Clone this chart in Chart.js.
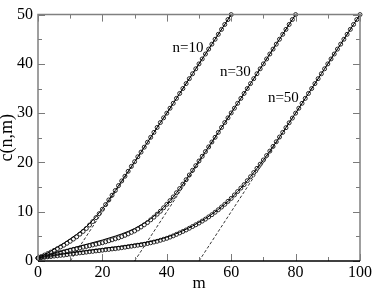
<!DOCTYPE html>
<html>
<head>
<meta charset="utf-8">
<script src="https://cdn.jsdelivr.net/npm/chart.js@4"></script>
<style>
  html, body { margin: 0; padding: 0; background: #fff; }
  #wrap { width: 374px; height: 288px; }
</style>
</head>
<body>
<div id="wrap"><canvas id="myChart" width="374" height="288"></canvas></div>
<script>
// circles: value at m = 0, 1, 2, ...
var c10 = [0.6,0.9,1.2,1.5,1.8,2.15,2.5,2.85,3.2,3.6,4.0,4.45,4.9,5.45,6.0,6.6,7.3,8.0,8.8,9.6,
  10.5,11.45,12.4,13.35,14.3,15.3,16.25,17.2,18.2,19.2,20.15,21.15,22.1,23.1,24.1,25.1,26.1,27.1,28.1,29.05,
  30,31,32,33,34,35,36,37,38,39,40,41,42,43,44,45,46,47,48,49,50]
var c30 = [0.6,0.75,0.9,1.05,1.2,1.4,1.55,1.7,1.85,2.0,2.2,2.35,2.5,2.65,2.8,2.95,3.1,3.25,3.4,3.55,
  3.7,3.9,4.1,4.3,4.5,4.7,4.95,5.2,5.5,5.8,6.1,6.5,6.9,7.35,7.8,8.35,8.9,9.5,10.1,10.8,
  11.5,12.25,13.0,13.85,14.7,15.6,16.5,17.45,18.4,19.35,20.3,21.25,22.2,23.15,24.15,25.1,26.1,27.1,28.1,29.05,
  30.05,31,32,33,34,35,36,37,38,39,40,41,42,43,44,45,46,47,48,49,50]
var c50 = [0.6,0.7,0.75,0.85,0.9,1.0,1.05,1.15,1.2,1.3,1.4,1.5,1.55,1.65,1.7,1.8,1.9,1.95,2.05,2.1,
  2.2,2.3,2.35,2.45,2.5,2.6,2.7,2.8,2.9,3.0,3.1,3.2,3.3,3.4,3.55,3.7,3.85,4.0,4.2,4.4,
  4.6,4.85,5.1,5.4,5.7,6.0,6.3,6.65,7.0,7.35,7.7,8.1,8.5,8.95,9.4,9.9,10.4,10.95,11.5,12.1,
  12.7,13.4,14.1,14.8,15.5,16.3,17.1,17.95,18.8,19.65,20.5,21.4,22.3,23.25,24.2,25.15,26.1,27.05,28.05,29.0,
  30,31,32,33,34,35,36,37,38,39,40,41,42,43,44,45,46,47,48,49,50]

// solid curves: value at m = 0, 2, 4, ...
var line10 = [0.6,1.3,2.0,2.8,3.6,4.5,5.4,6.4,7.6,9.0,10.6,12.4,14.3,16.25,18.2,20.15,22.1,24.1,26.1,28.1,
  30,32,34,36,38,40,42,44,46,48,50]
var line30 = [0.6,1.0,1.35,1.75,2.15,2.5,2.85,3.2,3.55,3.9,4.25,4.65,5.05,5.5,6.0,6.6,7.3,8.1,9.1,10.2,
  11.5,13.0,14.7,16.5,18.4,20.3,22.2,24.15,26.1,28.1,30.05,32,34,36,38,40,42,44,46,48,50]
var line50 = [0.6,0.85,1.05,1.25,1.45,1.6,1.8,2.0,2.15,2.35,2.5,2.7,2.85,3.0,3.2,3.4,3.6,3.85,4.1,4.45,
  4.85,5.3,5.85,6.45,7.1,7.85,8.6,9.5,10.45,11.55,12.7,14.1,15.5,17.1,18.8,20.5,22.3,24.2,26.1,28.05,
  30,32,34,36,38,40,42,44,46,48,50]

// dashed asymptotes: start and end points
var asymM = [[10,60],[30,80],[50,100]]
var asymC = [[0,50],[0,50],[0,50]]

var labelText = ['n=10','n=30','n=50']
var labelM = [46.6, 61.3, 76.2]
var labelC = [43.3, 38.4, 33.1]

var xTicks = [0,20,40,60,80,100]
var xMinor = [10,30,50,70,90]
var yTicks = [0,10,20,30,40,50]
var yMinor = [5,15,25,35,45]

var serif = "'Liberation Serif', 'Times New Roman', serif"

function pts(vals, step) {
    var out = []
    for (var i = 0; i < vals.length; i++) {
        out.push({x: i * step, y: vals[i]})
    }
    return out
}

var data_set = []
var circles = [c10, c30, c50]
var lines = [line10, line30, line50]
for (var k = 0; k < 3; k++) {
    data_set.push({
        data: pts(lines[k], 2),
        showLine: true,
        borderColor: '#000',
        borderWidth: 1,
        pointRadius: 0,
        cubicInterpolationMode: 'monotone',
        clip: 4
    })
    data_set.push({
        data: pts(circles[k], 1),
        showLine: false,
        pointRadius: 2,
        pointBorderWidth: 0.9,
        pointBorderColor: '#111',
        pointBackgroundColor: 'rgba(255,255,255,0)',
        clip: 4
    })
    data_set.push({
        data: [{x: asymM[k][0], y: asymC[k][0]}, {x: asymM[k][1], y: asymC[k][1]}],
        showLine: true,
        borderColor: '#000',
        borderWidth: 0.8,
        borderDash: [3, 2],
        pointRadius: 0
    })
}

const framePlugin = {
    id: 'frame_and_labels',
    afterDraw: (chart) => {
        const ctx = chart.ctx
        const a = chart.chartArea
        const xs = chart.scales.x
        const ys = chart.scales.y
        ctx.save()
        ctx.lineWidth = 1
        ctx.strokeStyle = '#7a7a7a'
        // ticks pointing inward, on all four sides
        function tick(x1, y1, x2, y2) {
            ctx.beginPath(); ctx.moveTo(x1, y1); ctx.lineTo(x2, y2); ctx.stroke()
        }
        xTicks.forEach(v => { var p = Math.round(xs.getPixelForValue(v)) + 0.5
            tick(p, a.bottom, p, a.bottom - 7); tick(p, a.top, p, a.top + 7) })
        xMinor.forEach(v => { var p = Math.round(xs.getPixelForValue(v)) + 0.5
            tick(p, a.bottom, p, a.bottom - 4); tick(p, a.top, p, a.top + 4) })
        yTicks.forEach(v => { var p = Math.round(ys.getPixelForValue(v)) + 0.5
            tick(a.left, p, a.left + 7, p); tick(a.right, p, a.right - 7, p) })
        yMinor.forEach(v => { var p = Math.round(ys.getPixelForValue(v)) + 0.5
            tick(a.left, p, a.left + 4, p); tick(a.right, p, a.right - 4, p) })
        // frame
        ctx.lineWidth = 1.5
        ctx.strokeStyle = '#808080'
        ctx.beginPath()
        ctx.moveTo(a.left, a.bottom); ctx.lineTo(a.left, a.top)
        ctx.lineTo(a.right, a.top); ctx.lineTo(a.right, a.bottom)
        ctx.stroke()
        ctx.strokeStyle = '#000'
        ctx.lineWidth = 1.3
        ctx.beginPath(); ctx.moveTo(a.left, a.bottom); ctx.lineTo(a.right, a.bottom); ctx.stroke()
        // curve labels
        ctx.fillStyle = '#000'
        ctx.font = '15px ' + serif
        ctx.textAlign = 'center'
        ctx.textBaseline = 'middle'
        for (var i = 0; i < labelText.length; i++) {
            ctx.fillText(labelText[i], xs.getPixelForValue(labelM[i]), ys.getPixelForValue(labelC[i]))
        }
        ctx.restore()
    }
}

var the_chart_canvas = document.getElementById('myChart').getContext('2d')
var myChart = new Chart(the_chart_canvas, {
    type: 'scatter',
    data: { datasets: data_set },
    options: {
        responsive: false,
        animation: false,
        devicePixelRatio: 1,
        layout: { padding: { top: 6, right: 12, left: 0, bottom: 0 } },
        plugins: { legend: { display: false }, tooltip: { enabled: false } },
        scales: {
            x: {
                type: 'linear', min: 0, max: 100,
                afterFit: (s) => { s.height = 27 },
                afterBuildTicks: (s) => { s.ticks = xTicks.map(v => ({value: v})) },
                grid: { display: false, drawTicks: false },
                border: { display: false },
                ticks: { color: '#000', padding: 2, maxRotation: 0, font: { family: serif, size: 16 } },
                title: { display: true, text: 'm', color: '#000', padding: 0,
                         font: { family: serif, size: 17, lineHeight: 0.5 } }
            },
            y: {
                type: 'linear', min: 0, max: 50,
                afterFit: (s) => { s.width = 38 },
                afterBuildTicks: (s) => { s.ticks = yTicks.map(v => ({value: v})) },
                grid: { display: false, drawTicks: false },
                border: { display: false },
                ticks: { color: '#000', padding: 5, font: { family: serif, size: 16 } },
                title: { display: true, text: 'c(n,m)', color: '#000', padding: 0,
                         font: { family: serif, size: 18, lineHeight: 0.85 } }
            }
        }
    },
    plugins: [framePlugin]
})
</script>
</body>
</html>
